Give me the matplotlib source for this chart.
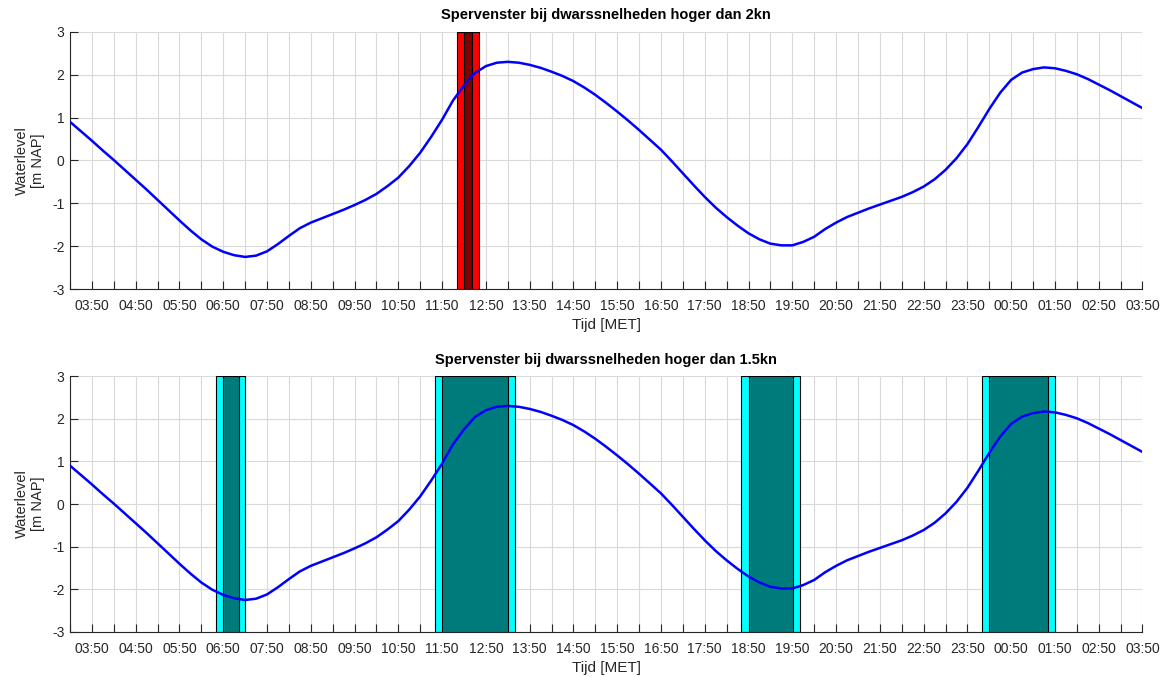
import pandas as pd
import matplotlib
matplotlib.use("Agg")
import matplotlib.pyplot as plt
import matplotlib.dates as mdates

plt.rcParams['font.family'] = ['Liberation Sans', 'DejaVu Sans']
plt.rcParams['axes.unicode_minus'] = False

# waterlevel every 15 minutes, 03:20 -> 03:50 next day
times = pd.date_range("2017-01-01 03:20", "2017-01-02 03:50", freq="15min")
level = [0.90, 0.68, 0.46, 0.23, 0.01, -0.22, -0.45, -0.68, -0.92, -1.16,
         -1.40, -1.63, -1.84, -2.01, -2.13, -2.21, -2.25, -2.22, -2.12, -1.95,
         -1.76, -1.58, -1.45, -1.35, -1.25, -1.15, -1.04, -0.92, -0.78, -0.60,
         -0.40, -0.13, 0.18, 0.55, 0.95, 1.40, 1.75, 2.04, 2.20, 2.28,
         2.30, 2.28, 2.23, 2.16, 2.07, 1.97, 1.85, 1.70, 1.53, 1.34,
         1.14, 0.93, 0.71, 0.48, 0.25, -0.02, -0.30, -0.58, -0.85, -1.10,
         -1.32, -1.52, -1.70, -1.84, -1.94, -1.98, -1.98, -1.90, -1.78, -1.60,
         -1.45, -1.32, -1.22, -1.12, -1.03, -0.94, -0.85, -0.74, -0.61, -0.44,
         -0.22, 0.05, 0.38, 0.78, 1.20, 1.58, 1.88, 2.05, 2.13, 2.17,
         2.15, 2.09, 2.01, 1.90, 1.77, 1.64, 1.50, 1.36, 1.22]

# blocking windows: (outer start, outer end, inner start, inner end)
windows_2kn = [("2017-01-01 12:10", "2017-01-01 12:40", "2017-01-01 12:20", "2017-01-01 12:31")]
windows_15kn = [
    ("2017-01-01 06:40", "2017-01-01 07:20", "2017-01-01 06:50", "2017-01-01 07:11"),
    ("2017-01-01 11:40", "2017-01-01 13:30", "2017-01-01 11:50", "2017-01-01 13:21"),
    ("2017-01-01 18:40", "2017-01-01 20:00", "2017-01-01 18:50", "2017-01-01 19:51"),
    ("2017-01-02 00:10", "2017-01-02 01:50", "2017-01-02 00:20", "2017-01-02 01:41"),
]

titles = ["Spervenster bij dwarssnelheden hoger dan 2kn",
          "Spervenster bij dwarssnelheden hoger dan 1.5kn"]
window_sets = [windows_2kn, windows_15kn]
colors = [("#ff0000", "#800000"), ("#00ffff", "#007b7b")]

fig = plt.figure(figsize=(11.67, 6.77), dpi=100)
boxes = [[0.060, 0.573, 0.919, 0.380], [0.060, 0.0665, 0.919, 0.378]]

for box, title, wins, (c_out, c_in) in zip(boxes, titles, window_sets, colors):
    ax = fig.add_axes(box)
    for o0, o1, i0, i1 in wins:
        ax.axvspan(pd.Timestamp(o0), pd.Timestamp(o1), ymin=0, ymax=1,
                   facecolor=c_out, edgecolor="black", lw=0.8, zorder=2)
        ax.axvspan(pd.Timestamp(i0), pd.Timestamp(i1), ymin=0, ymax=1,
                   facecolor=c_in, edgecolor="black", lw=0.8, zorder=3)
    ax.plot(times, level, color="#0000ff", lw=1.8, zorder=4)

    ax.set_xlim(times[0], times[-1])
    ax.set_ylim(-3, 3)
    ax.set_yticks(range(-3, 4))
    ax.xaxis.set_major_locator(mdates.MinuteLocator(byminute=[50]))
    ax.xaxis.set_major_formatter(mdates.DateFormatter("%H:%M"))
    ax.xaxis.set_minor_locator(mdates.MinuteLocator(byminute=[20]))

    ax.grid(True, which="both", color="#dadada", lw=0.8, zorder=0)
    ax.set_axisbelow(True)
    ax.tick_params(axis="both", which="both", direction="in", length=6,
                   width=0.8, colors="#262626", labelsize=10)
    ax.tick_params(axis="x", which="both", pad=7)
    ax.tick_params(axis="y", pad=4)
    for side in ["top", "right"]:
        ax.spines[side].set_visible(False)
    for side in ["left", "bottom"]:
        ax.spines[side].set_color("#262626")
        ax.spines[side].set_linewidth(0.8)

    ax.set_title(title, fontsize=10.5, fontweight="bold", pad=9)
    ax.set_xlabel("Tijd [MET]", fontsize=11, color="#262626", labelpad=4)
    ax.set_ylabel("Waterlevel\n[m NAP]", fontsize=10.5, color="#262626", labelpad=5)

fig.savefig("out.png", dpi=100)
